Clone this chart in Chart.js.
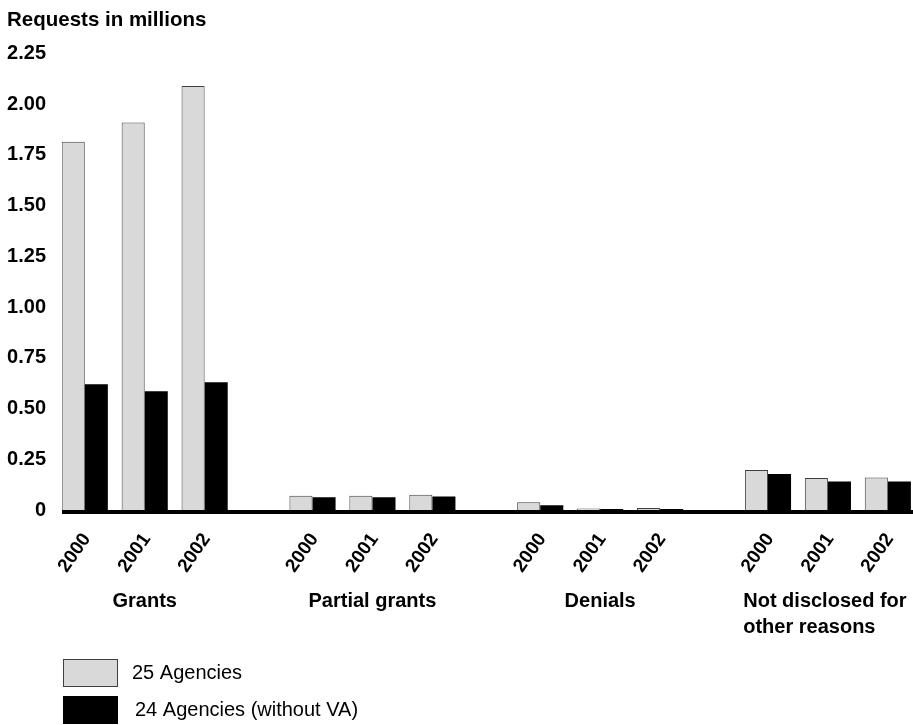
<!DOCTYPE html>
<html>
<head>
<meta charset="utf-8">
<script src="https://cdn.jsdelivr.net/npm/chart.js@4.4.0/dist/chart.umd.min.js"></script>
<style>
    html, body { margin: 0; padding: 0; background: #fff; }
    #wrap { position: relative; width: 913px; height: 725px; }
</style>
</head>
<body>
<div id="wrap"><canvas id="chart"></canvas></div>
<script>
// Данные графика
const groups = ['Grants', 'Partial grants', 'Denials', 'Not disclosed for\nother reasons'];
const years = ['2000', '2001', '2002'];
const agencies25 = [1.815, 1.91, 2.09, 0.07, 0.07, 0.075, 0.038, 0.008, 0.01, 0.197, 0.158, 0.16];
const agencies24 = [0.62, 0.585, 0.63, 0.063, 0.063, 0.067, 0.023, 0.005, 0.005, 0.177, 0.141, 0.141];
const yTicks = [0, 0.25, 0.5, 0.75, 1, 1.25, 1.5, 1.75, 2, 2.25];
const seriesNames = ['25 Agencies', '24 Agencies (without VA)'];

const FONT = '"Liberation Sans", Arial, Helvetica, sans-serif';

// позиции столбцов: 5 единиц между годами, 19 между группами
const positions = [];
groups.forEach((g, gi) => {
    years.forEach((y, yi) => positions.push(gi * 19 + yi * 5));
});

function toPoints(values) {
    return values.map((v, i) => ({ x: positions[i], y: v }));
}

const colors = [
    { fill: '#d9d9d9', border: '#404040' },
    { fill: '#000000', border: '#000000' }
];

// Базовая линия, подписи групп, заголовок и легенда
const extrasPlugin = {
    id: 'extras',
    afterDraw(chart) {
        const ctx = chart.ctx;
        const xs = chart.scales.x;
        const area = chart.chartArea;
        ctx.save();
        ctx.fillStyle = '#000';

        // толстая линия под столбцами
        ctx.fillRect(area.left, area.bottom, area.right - area.left, 4);

        ctx.textBaseline = 'middle';

        // заголовок оси Y
        ctx.font = 'bold 20.5px ' + FONT;
        ctx.textAlign = 'left';
        ctx.fillText('Requests in millions', 7, 20);

        // названия групп
        ctx.font = 'bold 20px ' + FONT;
        groups.forEach((g, gi) => {
            const cx = xs.getPixelForValue(positions[gi * 3 + 1]);
            const lines = g.split('\n');
            const maxW = Math.max(...lines.map(l => ctx.measureText(l).width));
            const left = cx - maxW / 2 - (lines.length > 1 ? 3 : 0);
            lines.forEach((l, li) => {
                ctx.fillText(l, left, 601 + li * 26);
            });
        });

        // легенда
        ctx.font = '20px ' + FONT;
        seriesNames.forEach((name, i) => {
            const top = 659 + i * 37;
            ctx.fillStyle = colors[i].fill;
            ctx.fillRect(63, top, 55, 28);
            ctx.strokeStyle = colors[i].border;
            ctx.lineWidth = 1;
            ctx.strokeRect(63.5, top + 0.5, 54, 27);
            ctx.fillStyle = '#000';
            ctx.fillText(name, 132 + i * 3, top + 14);
        });
        ctx.restore();
    }
};

new Chart(document.getElementById('chart'), {
    type: 'bar',
    data: {
        datasets: [
            {
                label: seriesNames[0],
                data: toPoints(agencies25),
                backgroundColor: colors[0].fill,
                borderColor: colors[0].border,
                borderWidth: 1
            },
            {
                label: seriesNames[1],
                data: toPoints(agencies24),
                backgroundColor: colors[1].fill,
                borderColor: colors[1].border,
                borderWidth: 0
            }
        ]
    },
    options: {
        responsive: true,
        maintainAspectRatio: false,
        animation: false,
        categoryPercentage: 0.77,
        barPercentage: 1,
        layout: { padding: { top: 53.5, left: 0, right: 0, bottom: 0 } },
        plugins: {
            legend: { display: false },
            tooltip: { enabled: false }
        },
        scales: {
            x: {
                type: 'linear',
                offset: false,
                min: -1.9,
                max: 69.1,
                grid: { display: false, drawTicks: false },
                border: { display: false },
                afterBuildTicks: function(scale) {
                    scale.ticks = positions.map(v => ({ value: v }));
                },
                afterFit: function(scale) {
                    scale.height = 215;
                    scale.paddingLeft = 0;
                    scale.paddingRight = 0;
                },
                ticks: {
                    autoSkip: false,
                    maxRotation: 55,
                    minRotation: 55,
                    padding: 19,
                    labelOffset: 2,
                    color: '#000',
                    font: { family: FONT, size: 19, weight: 'bold' },
                    callback: function(value, index) {
                        return years[index % 3];
                    }
                }
            },
            y: {
                min: 0,
                max: 2.25,
                grid: { display: false, drawTicks: false },
                border: { display: false },
                afterBuildTicks: function(scale) {
                    scale.ticks = yTicks.map(v => ({ value: v }));
                },
                afterFit: function(scale) {
                    scale.width = 62;
                },
                ticks: {
                    padding: 16,
                    color: '#000',
                    font: { family: FONT, size: 20, weight: 'bold' },
                    callback: function(value) {
                        return value === 0 ? '0' : value.toFixed(2);
                    }
                }
            }
        }
    },
    plugins: [extrasPlugin]
});
</script>
</body>
</html>
